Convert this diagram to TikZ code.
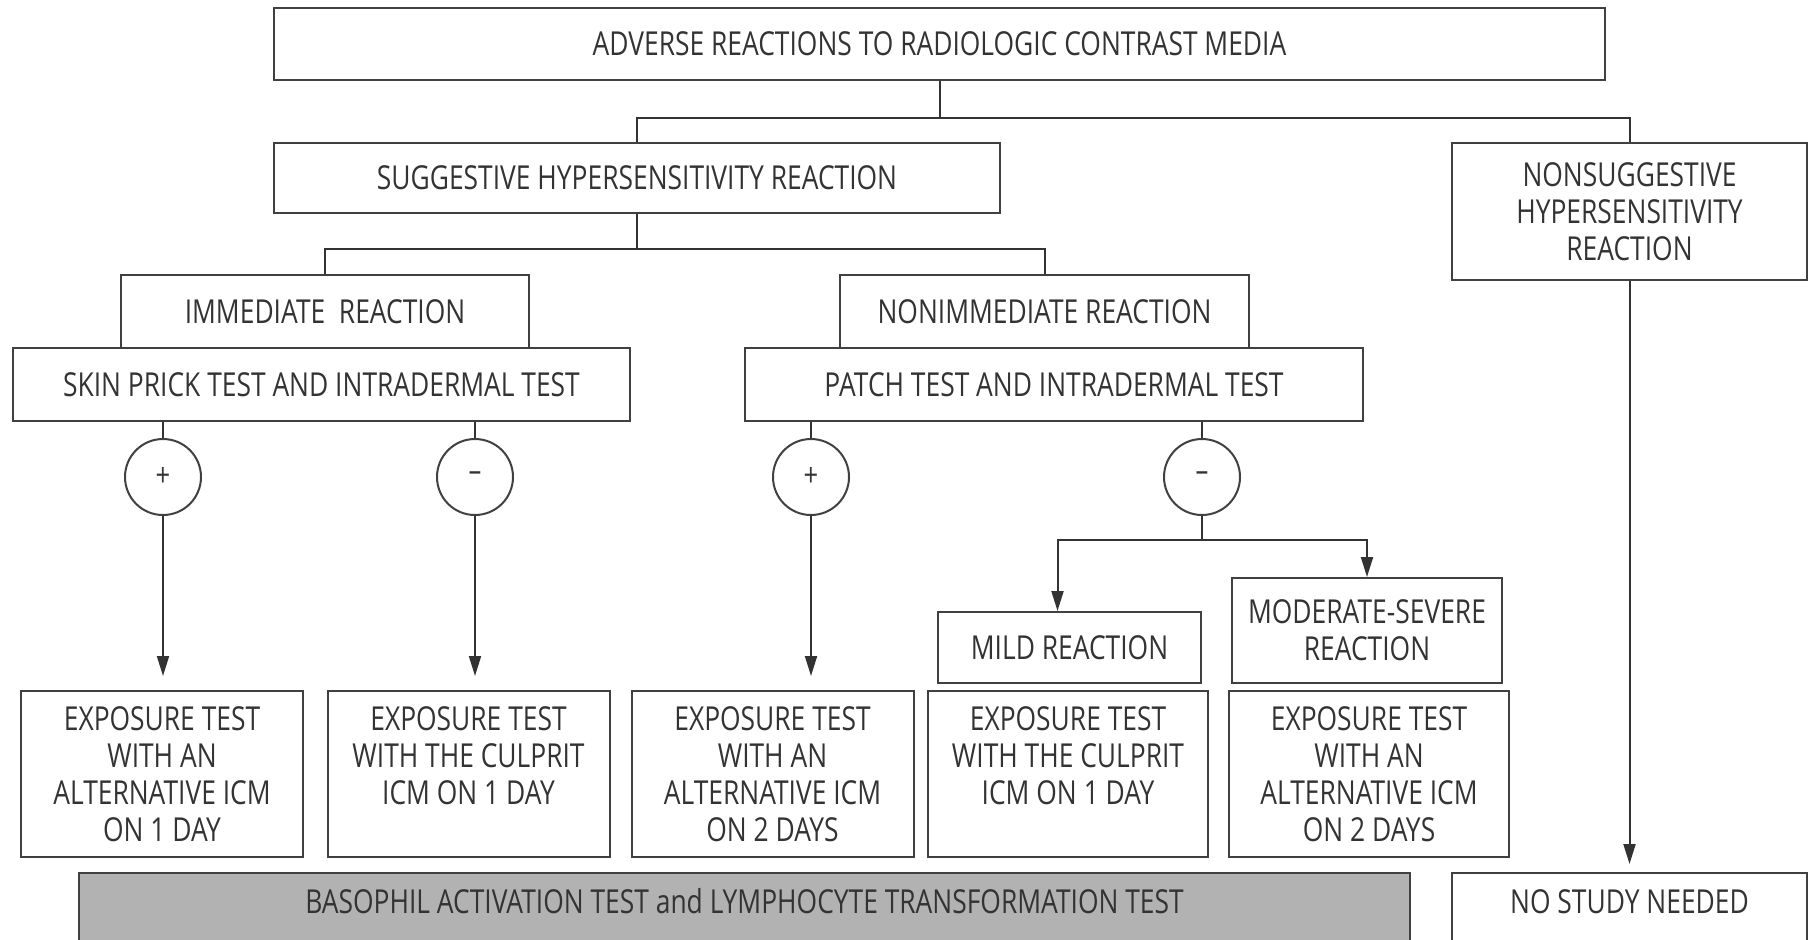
\documentclass[tikz,border=0pt]{standalone}
\usepackage{fontspec}
\setmainfont{Open Sans}[FakeStretch=0.8]
\usetikzlibrary{arrows.meta}

\begin{document}
\begin{tikzpicture}[
    x=0.5pt, y=-0.5pt,
    >={Triangle[length=10pt,width=6pt]},
    line width=1pt,
    color=black!80,
    box/.style={rectangle, draw=black!75, line width=1pt, inner sep=0pt, align=center,
                text=black!80, font=\fontsize{16.5}{18.5}\selectfont},
    sign/.style={circle, draw=black!75, minimum size=38pt, inner sep=0pt,
                 text=black!80, font=\fontsize{16}{18}\selectfont}
]
  \useasboundingbox (0,0) rectangle (1813,939);

  % nodes
  \node[box, minimum width=665.5pt, minimum height=36pt] (adverse) at (939.5,44)
    {ADVERSE REACTIONS TO RADIOLOGIC CONTRAST MEDIA};
  \node[box, minimum width=363pt, minimum height=35pt] (suggest) at (637,178)
    {SUGGESTIVE HYPERSENSITIVITY REACTION};
  \node[box, minimum width=177.5pt, minimum height=68.5pt] (nonsugg) at (1629.5,211.5)
    {NONSUGGESTIVE\\HYPERSENSITIVITY\\REACTION};
  \node[box, minimum width=204pt, minimum height=36.5pt] (immed) at (325,311.5)
    {IMMEDIATE\ \ REACTION};
  \node[box, minimum width=204.5pt, minimum height=36.5pt] (nonimmed) at (1044.5,311.5)
    {NONIMMEDIATE REACTION};
  \node[box, minimum width=308.5pt, minimum height=36.5pt] (skin) at (321.5,384.5)
    {SKIN PRICK TEST AND INTRADERMAL TEST};
  \node[box, minimum width=309pt, minimum height=36.5pt] (patch) at (1054,384.5)
    {PATCH TEST AND INTRADERMAL TEST};

  \node[sign] (pp1) at (163,477)  {+};
  \node[sign] (mm1) at (475,477)  {--};
  \node[sign] (pp2) at (811,477)  {+};
  \node[sign] (mm2) at (1202,477) {--};

  \node[box, minimum width=131.5pt, minimum height=35.5pt] (mild) at (1069.5,647.5)
    {MILD REACTION};
  \node[box, minimum width=135pt, minimum height=52.5pt] (moderate) at (1367,630.5)
    {MODERATE-SEVERE\\REACTION};

  \node[box, minimum width=141pt, minimum height=83pt] (ex1) at (162,774)
    {EXPOSURE TEST\\WITH AN\\ALTERNATIVE ICM\\ON 1 DAY};
  \node[box, minimum width=141pt, minimum height=83pt] (ex2) at (468.5,774)
    {EXPOSURE TEST\\WITH THE CULPRIT\\ICM ON 1 DAY\\\phantom{X}};
  \node[box, minimum width=141pt, minimum height=83pt] (ex3) at (772.5,774)
    {EXPOSURE TEST\\WITH AN\\ALTERNATIVE ICM\\ON 2 DAYS};
  \node[box, minimum width=140pt, minimum height=83pt] (ex4) at (1068,774)
    {EXPOSURE TEST\\WITH THE CULPRIT\\ICM ON 1 DAY\\\phantom{X}};
  \node[box, minimum width=140pt, minimum height=83pt] (ex5) at (1369,774)
    {EXPOSURE TEST\\WITH AN\\ALTERNATIVE ICM\\ON 2 DAYS};

  \node[box, fill=black!30, minimum width=665.5pt, text height=20pt, text depth=15pt] (basophil) at (744.5,908)
    {BASOPHIL ACTIVATION TEST and LYMPHOCYTE TRANSFORMATION TEST};
  \node[box, minimum width=177.5pt, text height=20pt, text depth=15pt] (nostudy) at (1629.5,908)
    {NO STUDY NEEDED};

  % edges
  \draw (adverse.south) -- ++(0,37) coordinate (j1);
  \draw (suggest.north) |- (j1) -| (nonsugg.north);
  \draw (suggest.south) -- ++(0,35) coordinate (j2);
  \draw (immed.north) |- (j2) -| (nonimmed.north);

  \draw (skin.south -| pp1) -- (pp1);
  \draw (skin.south -| mm1) -- (mm1);
  \draw (patch.south -| pp2) -- (pp2);
  \draw (patch.south -| mm2) -- (mm2);

  \draw[->, shorten >=7pt] (pp1) -- (pp1 |- ex1.north);
  \draw[->, shorten >=7pt] (mm1) -- (mm1 |- ex2.north);
  \draw[->, shorten >=7pt] (pp2) -- (pp2 |- ex3.north);

  \draw (mm2.south) -- ++(0,24) coordinate (j3);
  \draw[->] (j3) -| ([xshift=-6pt]mild.north);
  \draw[->] (j3) -| (moderate.north);

  \draw[->, shorten >=4pt] (nonsugg.south) -- (nostudy.north);
\end{tikzpicture}
\end{document}
